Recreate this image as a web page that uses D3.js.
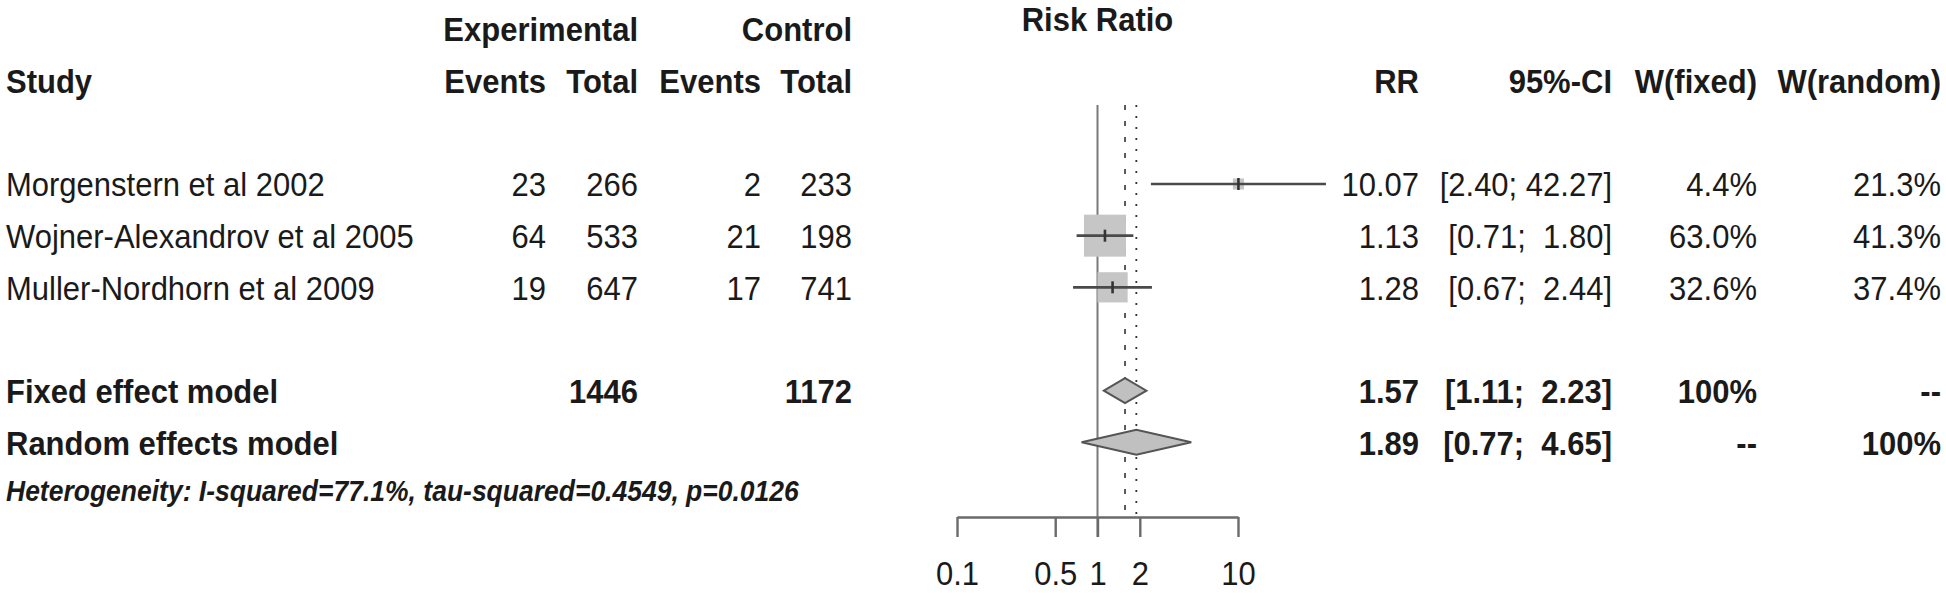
<!DOCTYPE html>
<html>
<head>
<meta charset="utf-8">
<script src="https://cdn.jsdelivr.net/npm/d3@7"></script>
<style>
  html, body { margin: 0; padding: 0; background: #fff; }
  svg { display: block; }
  text { font-family: "Liberation Sans", Arial, sans-serif; fill: #1a1a1a; white-space: pre; }
</style>
</head>
<body>
<svg id="chart" width="1946" height="593"></svg>
<script>
// ---------------- data ----------------
const studies = ["Morgenstern et al 2002", "Wojner-Alexandrov et al 2005", "Muller-Nordhorn et al 2009"];
const expEvents = [23, 64, 19];
const expTotal = [266, 533, 647];
const ctrlEvents = [2, 21, 17];
const ctrlTotal = [233, 198, 741];
const rr = [10.07, 1.13, 1.28];
const ciLower = [2.40, 0.71, 0.67];
const ciUpper = [42.27, 1.80, 2.44];
const wFixed = [4.4, 63.0, 32.6];
const wRandom = [21.3, 41.3, 37.4];

const models = ["Fixed effect model", "Random effects model"];
const modelExpTotal = ["1446", ""];
const modelCtrlTotal = ["1172", ""];
const modelRR = [1.57, 1.89];
const modelLower = [1.11, 0.77];
const modelUpper = [2.23, 4.65];
const modelWFixed = ["100%", "--"];
const modelWRandom = ["--", "100%"];

const axisTicks = [0.1, 0.5, 1, 2, 10];
const axisTickLabels = ["0.1", "0.5", "1", "2", "10"];
const heterogeneity = "Heterogeneity: I-squared=77.1%, tau-squared=0.4549, p=0.0126";

// ---------------- layout ----------------
const svg = d3.select("#chart");
const FS = 31;
const YSTRETCH = 1.1;
const x = d3.scaleLog().domain([0.1, 10]).range([957, 1238]);
const row = d3.scaleLinear().domain([0, 9]).range([29, 494]);
const boxSide = d3.scaleSqrt().domain([0, 63]).range([0, 42]);

const col = { study: 6, expEv: 546, expTot: 638, ctrlEv: 761, ctrlTot: 852,
              rr: 1419, ci: 1612, wf: 1757, wr: 1941 };

function txt(xp, yc, s, opts = {}) {
  return svg.append("text")
    .attr("transform", `translate(${xp},${yc}) scale(1,${YSTRETCH})`)
    .attr("x", 0).attr("y", 0).attr("dy", "0.36em")
    .attr("text-anchor", opts.anchor || "start")
    .attr("font-size", opts.size || FS)
    .attr("font-weight", opts.bold ? "bold" : "normal")
    .attr("font-style", opts.italic ? "italic" : "normal")
    .text(s);
}

const fmtCI = (l, u) => "[" + l.toFixed(2) + ";" + (" " + u.toFixed(2)).padStart(6, " ") + "]";

// headers
txt(col.expTot, row(0), "Experimental", { anchor: "end", bold: true });
txt(col.ctrlTot, row(0), "Control", { anchor: "end", bold: true });
txt(x(1), row(0) - 10, "Risk Ratio", { anchor: "middle", bold: true });
txt(col.study, row(1), "Study", { bold: true });
txt(col.expEv, row(1), "Events", { anchor: "end", bold: true });
txt(col.expTot, row(1), "Total", { anchor: "end", bold: true });
txt(col.ctrlEv, row(1), "Events", { anchor: "end", bold: true });
txt(col.ctrlTot, row(1), "Total", { anchor: "end", bold: true });
txt(col.rr, row(1), "RR", { anchor: "end", bold: true });
txt(col.ci, row(1), "95%-CI", { anchor: "end", bold: true });
txt(col.wf, row(1), "W(fixed)", { anchor: "end", bold: true });
txt(col.wr, row(1), "W(random)", { anchor: "end", bold: true });

// reference lines
const lineTop = 105, axisY = 517;
svg.append("line").attr("x1", x(1)).attr("x2", x(1)).attr("y1", lineTop).attr("y2", axisY + 20)
  .attr("stroke", "#7a7a7a").attr("stroke-width", 2);
svg.append("line").attr("x1", x(modelRR[0])).attr("x2", x(modelRR[0])).attr("y1", lineTop).attr("y2", axisY)
  .attr("stroke", "#333").attr("stroke-width", 1.6).attr("stroke-dasharray", "5,11");
svg.append("line").attr("x1", x(modelRR[1])).attr("x2", x(modelRR[1])).attr("y1", lineTop).attr("y2", axisY)
  .attr("stroke", "#333").attr("stroke-width", 1.8).attr("stroke-dasharray", "2,9");

// study rows
studies.forEach((s, i) => {
  const yc = row(3 + i);
  txt(col.study, yc, s);
  txt(col.expEv, yc, String(expEvents[i]), { anchor: "end" });
  txt(col.expTot, yc, String(expTotal[i]), { anchor: "end" });
  txt(col.ctrlEv, yc, String(ctrlEvents[i]), { anchor: "end" });
  txt(col.ctrlTot, yc, String(ctrlTotal[i]), { anchor: "end" });
  txt(col.rr, yc, rr[i].toFixed(2), { anchor: "end" });
  txt(col.ci, yc, fmtCI(ciLower[i], ciUpper[i]), { anchor: "end" });
  txt(col.wf, yc, wFixed[i].toFixed(1) + "%", { anchor: "end" });
  txt(col.wr, yc, wRandom[i].toFixed(1) + "%", { anchor: "end" });

  const side = boxSide(wFixed[i]);
  svg.append("rect")
    .attr("x", x(rr[i]) - side / 2).attr("y", yc - side / 2)
    .attr("width", side).attr("height", side)
    .attr("fill", "#c6c6c6");
  svg.append("line")
    .attr("x1", x(ciLower[i])).attr("x2", x(ciUpper[i]))
    .attr("y1", yc).attr("y2", yc)
    .attr("stroke", "#4a4a4a").attr("stroke-width", 2.6);
  svg.append("line")
    .attr("x1", x(rr[i])).attr("x2", x(rr[i]))
    .attr("y1", yc - 6).attr("y2", yc + 6)
    .attr("stroke", "#333").attr("stroke-width", 2.6);
});

// model rows
models.forEach((m, i) => {
  const yc = row(7 + i);
  txt(col.study, yc, m, { bold: true });
  txt(col.expTot, yc, modelExpTotal[i], { anchor: "end", bold: true });
  txt(col.ctrlTot, yc, modelCtrlTotal[i], { anchor: "end", bold: true });
  txt(col.rr, yc, modelRR[i].toFixed(2), { anchor: "end", bold: true });
  txt(col.ci, yc, fmtCI(modelLower[i], modelUpper[i]), { anchor: "end", bold: true });
  txt(col.wf, yc, modelWFixed[i], { anchor: "end", bold: true });
  txt(col.wr, yc, modelWRandom[i], { anchor: "end", bold: true });

  const h = 12.5;
  const pts = [[x(modelLower[i]), yc], [x(modelRR[i]), yc - h], [x(modelUpper[i]), yc], [x(modelRR[i]), yc + h]];
  svg.append("path")
    .attr("d", d3.line()(pts) + "Z")
    .attr("fill", "#c0c0c0").attr("stroke", "#555").attr("stroke-width", 2);
});

// heterogeneity
txt(col.study, row(9) - 3, heterogeneity, { bold: true, italic: true, size: 26.5 });

// axis
const axis = d3.axisBottom(x).tickValues(axisTicks).tickFormat((d, i) => axisTickLabels[i])
  .tickSize(20).tickSizeOuter(0).tickPadding(20);
const gAxis = svg.append("g").attr("transform", `translate(0,${axisY})`).call(axis);
gAxis.select(".domain").attr("stroke", "#6a6a6a").attr("stroke-width", 2.4);
gAxis.selectAll(".tick line").attr("stroke", "#6a6a6a").attr("stroke-width", 2.4);
gAxis.selectAll(".tick text").attr("font-size", FS).attr("fill", "#1a1a1a")
  .attr("font-family", "Liberation Sans, Arial, sans-serif")
  .attr("transform", `scale(1,${YSTRETCH})`);
</script>
</body>
</html>
